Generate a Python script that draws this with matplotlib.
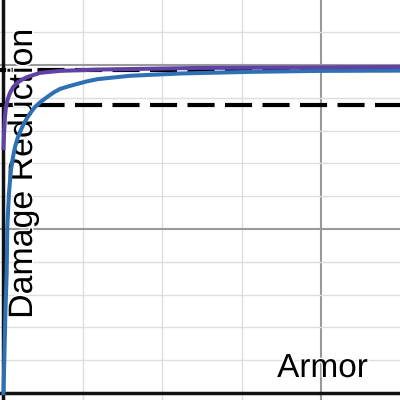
import matplotlib
matplotlib.use("Agg")
import matplotlib.pyplot as plt
import matplotlib.patheffects as pe
import numpy as np

# curves (x in grid steps, y as a fraction)
blue_x = [0.0, 0.013, 0.025, 0.040, 0.048, 0.069, 0.094, 0.12, 0.145, 0.175,
          0.208, 0.25, 0.296, 0.345, 0.397, 0.47, 0.548, 0.63, 0.712, 0.82,
          0.926, 1.05, 1.19, 1.593, 2.223, 3.104, 3.986, 5.0]
blue_y = [0.0, 0.131, 0.253, 0.366, 0.506, 0.610, 0.680, 0.720, 0.750, 0.775,
          0.796, 0.818, 0.838, 0.856, 0.872, 0.888, 0.902, 0.916, 0.927, 0.935,
          0.942, 0.950, 0.957, 0.967, 0.974, 0.979, 0.982, 0.983]

purple_x = [0.0, 0.006, 0.018, 0.031, 0.055, 0.082, 0.12, 0.17, 0.23, 0.296,
            0.46, 0.712, 1.19, 2.475, 5.0]
purple_y = [0.747, 0.787, 0.840, 0.872, 0.897, 0.915, 0.932, 0.945, 0.955,
            0.963, 0.976, 0.982, 0.986, 0.991, 0.994]

dashed_levels = [0.985, 0.878]

x_label = "Armor"
y_label = "Damage Reduction"

fig = plt.figure(figsize=(4, 4), dpi=100)
ax = fig.add_axes([0, 0, 1, 1])
ax.set_xlim(-0.044, 4.994)
ax.set_ylim(-0.021, 1.198)
ax.axis("off")

# grid
for gx in np.arange(1, 5):
    ax.axvline(gx, color="#999999" if gx == 4 else "#dddddd",
               lw=1.5 if gx == 4 else 1.0, zorder=1)
for gy in np.arange(0.1, 1.2, 0.1):
    major = abs(gy - 0.5) < 1e-6 or abs(gy - 1.0) < 1e-6
    ax.axhline(gy, color="#999999" if major else "#dddddd",
               lw=1.5 if major else 1.0, zorder=1)
ax.axvline(0, color="#111111", lw=2.5, zorder=2)
ax.axhline(0, color="#111111", lw=2.5, zorder=2)

for lvl in dashed_levels:
    ax.axhline(lvl, color="black", lw=3, dashes=(6.5, 2.5), zorder=3)

# labels sit under the curves, white halo over the grid
halo = [pe.withStroke(linewidth=2, foreground="white")]
ax.text(368 / 400, 1 - 377 / 400, x_label, ha="right", va="baseline",
        transform=ax.transAxes, fontsize=24, family="Liberation Sans",
        path_effects=halo, zorder=3.5)
ax.text(8 / 400, 1 - 174 / 400, y_label, ha="left", va="center", rotation=90,
        transform=ax.transAxes, fontsize=24.4, family="Liberation Sans",
        path_effects=halo, zorder=3.5)

ax.plot(blue_x, blue_y, color="#2d70b3", lw=2.9, zorder=4,
        solid_joinstyle="round")
ax.plot(purple_x, purple_y, color="#6042a6", lw=2.9, zorder=5,
        solid_joinstyle="round")

fig.savefig("out.png", dpi=100)
